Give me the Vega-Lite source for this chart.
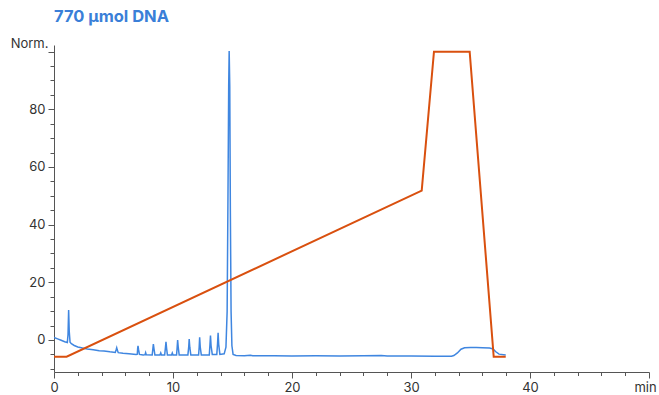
{
  "$schema": "https://vega.github.io/schema/vega-lite/v6.json",
  "width": 595,
  "height": 327,
  "autosize": {"type": "none"},
  "padding": {"left": 54, "top": 45, "right": 10, "bottom": 23},
  "title": {"text": "770 µmol DNA", "anchor": "start", "frame": "group", "font": "Inter", "fontSize": 16.5, "fontWeight": "bold", "color": "#3a7fd8", "offset": -1, "baseline": "alphabetic"},
  "config": {"view": {"stroke": null}},
  "data": {"values": [
    {"s": "signal", "t": 0, "v": 0.9},
    {"s": "signal", "t": 0.3, "v": 0.4},
    {"s": "signal", "t": 0.6, "v": -0.1},
    {"s": "signal", "t": 0.9, "v": -0.6},
    {"s": "signal", "t": 1.12, "v": -0.9},
    {"s": "signal", "t": 1.18, "v": 2},
    {"s": "signal", "t": 1.23, "v": 10.4},
    {"s": "signal", "t": 1.28, "v": 3},
    {"s": "signal", "t": 1.35, "v": -0.8},
    {"s": "signal", "t": 1.46, "v": -1.3},
    {"s": "signal", "t": 1.7, "v": -1.9},
    {"s": "signal", "t": 2.0, "v": -2.4},
    {"s": "signal", "t": 2.4, "v": -2.8},
    {"s": "signal", "t": 2.8, "v": -3.1},
    {"s": "signal", "t": 3.3, "v": -3.4},
    {"s": "signal", "t": 3.8, "v": -3.7},
    {"s": "signal", "t": 4.2, "v": -3.8},
    {"s": "signal", "t": 4.7, "v": -4.1},
    {"s": "signal", "t": 5.15, "v": -4.3},
    {"s": "signal", "t": 5.22, "v": -3.4},
    {"s": "signal", "t": 5.27, "v": -2.7},
    {"s": "signal", "t": 5.32, "v": -3.5},
    {"s": "signal", "t": 5.4, "v": -4.4},
    {"s": "signal", "t": 5.8, "v": -4.6},
    {"s": "signal", "t": 6.3, "v": -4.8},
    {"s": "signal", "t": 6.9, "v": -5.0},
    {"s": "signal", "t": 7.0, "v": -4.9},
    {"s": "signal", "t": 7.03, "v": -3.0},
    {"s": "signal", "t": 7.06, "v": -2.0},
    {"s": "signal", "t": 7.1, "v": -3.2},
    {"s": "signal", "t": 7.18, "v": -5.0},
    {"s": "signal", "t": 7.5, "v": -5.2},
    {"s": "signal", "t": 7.65, "v": -5.1},
    {"s": "signal", "t": 7.7, "v": -4.4},
    {"s": "signal", "t": 7.75, "v": -5.1},
    {"s": "signal", "t": 8.25, "v": -5.2},
    {"s": "signal", "t": 8.31, "v": -3.0},
    {"s": "signal", "t": 8.35, "v": -1.4},
    {"s": "signal", "t": 8.4, "v": -3.0},
    {"s": "signal", "t": 8.48, "v": -5.2},
    {"s": "signal", "t": 8.9, "v": -5.2},
    {"s": "signal", "t": 8.97, "v": -4.5},
    {"s": "signal", "t": 9.03, "v": -5.2},
    {"s": "signal", "t": 9.3, "v": -5.2},
    {"s": "signal", "t": 9.36, "v": -2.8},
    {"s": "signal", "t": 9.41, "v": -0.6},
    {"s": "signal", "t": 9.46, "v": -2.8},
    {"s": "signal", "t": 9.53, "v": -5.2},
    {"s": "signal", "t": 9.88, "v": -5.2},
    {"s": "signal", "t": 9.94, "v": -4.5},
    {"s": "signal", "t": 10.0, "v": -5.2},
    {"s": "signal", "t": 10.3, "v": -5.2},
    {"s": "signal", "t": 10.35, "v": -2.5},
    {"s": "signal", "t": 10.39, "v": 0},
    {"s": "signal", "t": 10.44, "v": -2.5},
    {"s": "signal", "t": 10.52, "v": -5.2},
    {"s": "signal", "t": 11.25, "v": -5.2},
    {"s": "signal", "t": 11.32, "v": -2.5},
    {"s": "signal", "t": 11.36, "v": 0.3},
    {"s": "signal", "t": 11.41, "v": -2.5},
    {"s": "signal", "t": 11.5, "v": -5.2},
    {"s": "signal", "t": 12.15, "v": -5.2},
    {"s": "signal", "t": 12.2, "v": -2.5},
    {"s": "signal", "t": 12.24, "v": 0.9},
    {"s": "signal", "t": 12.29, "v": -2.5},
    {"s": "signal", "t": 12.38, "v": -5.2},
    {"s": "signal", "t": 13.05, "v": -5.2},
    {"s": "signal", "t": 13.1, "v": -2.0},
    {"s": "signal", "t": 13.15, "v": 1.5},
    {"s": "signal", "t": 13.2, "v": -2.0},
    {"s": "signal", "t": 13.3, "v": -5.0},
    {"s": "signal", "t": 13.68, "v": -5.0},
    {"s": "signal", "t": 13.74, "v": -1.5},
    {"s": "signal", "t": 13.79, "v": 2.5},
    {"s": "signal", "t": 13.84, "v": -1.5},
    {"s": "signal", "t": 13.94, "v": -5.0},
    {"s": "signal", "t": 14.3, "v": -4.8},
    {"s": "signal", "t": 14.45, "v": -2.5},
    {"s": "signal", "t": 14.55, "v": 10},
    {"s": "signal", "t": 14.62, "v": 50},
    {"s": "signal", "t": 14.68, "v": 88},
    {"s": "signal", "t": 14.72, "v": 100.2},
    {"s": "signal", "t": 14.77, "v": 88},
    {"s": "signal", "t": 14.82, "v": 45},
    {"s": "signal", "t": 14.88, "v": 10},
    {"s": "signal", "t": 14.95, "v": -2},
    {"s": "signal", "t": 15.05, "v": -5.0},
    {"s": "signal", "t": 15.3, "v": -5.4},
    {"s": "signal", "t": 16.0, "v": -5.5},
    {"s": "signal", "t": 16.5, "v": -5.3},
    {"s": "signal", "t": 16.7, "v": -5.5},
    {"s": "signal", "t": 17.5, "v": -5.45},
    {"s": "signal", "t": 18.5, "v": -5.5},
    {"s": "signal", "t": 20, "v": -5.55},
    {"s": "signal", "t": 22, "v": -5.5},
    {"s": "signal", "t": 24, "v": -5.55},
    {"s": "signal", "t": 26, "v": -5.5},
    {"s": "signal", "t": 27.5, "v": -5.4},
    {"s": "signal", "t": 28, "v": -5.55},
    {"s": "signal", "t": 30, "v": -5.55},
    {"s": "signal", "t": 32, "v": -5.6},
    {"s": "signal", "t": 33.4, "v": -5.65},
    {"s": "signal", "t": 33.6, "v": -5.4},
    {"s": "signal", "t": 33.9, "v": -4.5},
    {"s": "signal", "t": 34.2, "v": -3.2},
    {"s": "signal", "t": 34.5, "v": -2.7},
    {"s": "signal", "t": 35.0, "v": -2.6},
    {"s": "signal", "t": 35.5, "v": -2.6},
    {"s": "signal", "t": 36.0, "v": -2.7},
    {"s": "signal", "t": 36.6, "v": -2.8},
    {"s": "signal", "t": 36.9, "v": -3.1},
    {"s": "signal", "t": 37.1, "v": -4.0},
    {"s": "signal", "t": 37.4, "v": -4.9},
    {"s": "signal", "t": 37.96, "v": -5.2},
    {"s": "gradient", "t": 0, "v": -5.8},
    {"s": "gradient", "t": 1.06, "v": -5.8},
    {"s": "gradient", "t": 30.9, "v": 51.8},
    {"s": "gradient", "t": 31.93, "v": 100},
    {"s": "gradient", "t": 34.93, "v": 100},
    {"s": "gradient", "t": 36.95, "v": -5.8},
    {"s": "gradient", "t": 37.96, "v": -5.8}
  ]},
  "mark": {"type": "line", "clip": true, "strokeJoin": "miter"},
  "encoding": {
    "x": {
      "field": "t", "type": "quantitative",
      "scale": {"domain": [0, 50], "nice": false, "zero": false},
      "axis": {
        "title": null, "grid": false,
        "values": [0,2,4,6,8,10,12,14,16,18,20,22,24,26,28,30,32,34,36,38,40,42,44,46,48,50],
        "labelExpr": "datum.value == 50 ? 'min' : (datum.value % 10 == 0 ? datum.label : '')",
        "labelFlush": false, "labelOverlap": false, "labelBound": false,
        "labelFont": "Inter", "labelFontSize": 13, "labelColor": "#333333", "labelPadding": 3,
        "labelOffset": {"condition": {"test": "datum.value == 50", "value": -4}, "value": 0},
        "tickSize": {"condition": {"test": "datum.value % 10 == 0", "value": 6}, "value": 3.5},
        "tickColor": "#555555", "domainColor": "#555555", "tickWidth": 1, "domainWidth": 1
      }
    },
    "y": {
      "field": "v", "type": "quantitative",
      "scale": {"domain": [-11.1, 102.3], "nice": false, "zero": false},
      "axis": {
        "grid": false,
        "values": [-10,-5,0,5,10,15,20,25,30,35,40,45,50,55,60,65,70,75,80,85,90,95,100],
        "labelExpr": "datum.value % 20 == 0 && datum.value < 100 ? datum.label : ''",
        "labelOverlap": false, "labelFlush": false, "labelBound": false,
        "labelFont": "Inter", "labelFontSize": 13, "labelColor": "#333333", "labelPadding": 3,
        "tickSize": {"condition": {"test": "datum.value % 20 == 0", "value": 6}, "value": 4},
        "tickColor": "#555555", "domainColor": "#555555", "tickWidth": 1, "domainWidth": 1,
        "title": "Norm.", "titleAngle": 0, "titleAlign": "right", "titleBaseline": "middle",
        "titleX": -6, "titleY": -2, "titleFont": "Inter", "titleFontSize": 13, "titleFontWeight": "normal", "titleColor": "#333333"
      }
    },
    "color": {
      "field": "s", "type": "nominal",
      "scale": {"domain": ["signal", "gradient"], "range": ["#3f86e0", "#d9500f"]},
      "legend": null
    },
    "strokeWidth": {
      "field": "s", "type": "nominal",
      "scale": {"domain": ["signal", "gradient"], "range": [1.5, 2]},
      "legend": null
    },
    "order": {"field": "t", "type": "quantitative"}
  }
}
